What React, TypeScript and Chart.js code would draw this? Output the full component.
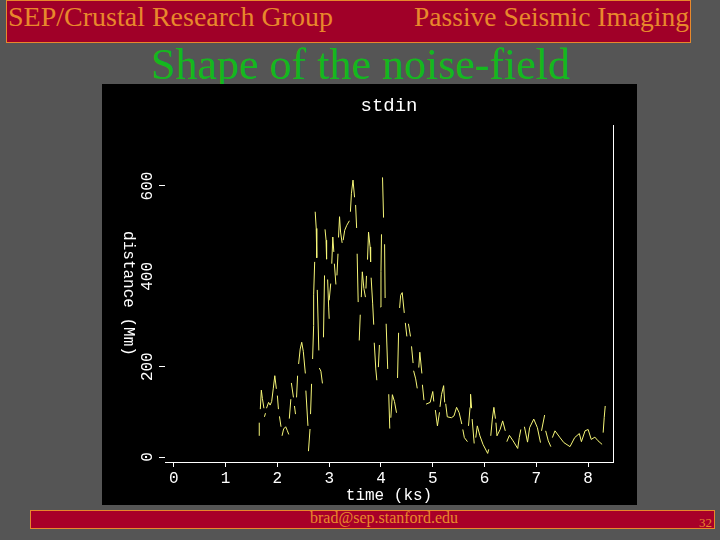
import { useEffect, useRef } from "react";
import type { CSSProperties } from "react";
import { Chart, registerables } from "chart.js";

Chart.register(...registerables);

const plotTitle = "stdin";
const xLabel = "time (ks)";
const yLabel = "distance (Mm)";
const yTicksWithoutMark = [400];

// null = break in the trace, the scan of the plot lost those bits
const times = [
  1.65, 1.65, null, 1.67, 1.69, 1.71, 1.74, null, 1.75, 1.77, null, 1.79, 1.83, 1.86, 1.89, 1.92, 1.95, 1.98, null,
  2.0, 2.02, null, 2.04, 2.07, null, 2.09, 2.12, 2.16, 2.19, 2.22, null, 2.23, 2.26, null, 2.27, 2.31, null, 2.33, 2.35, null,
  2.37, 2.39, null, 2.41, 2.44, 2.47, 2.5, 2.54, null, 2.55, 2.59, null, 2.6, 2.63, null, 2.64, 2.66, null,
  2.68, 2.7, 2.7, 2.72, null, 2.73, 2.75, 2.76, null, 2.77, 2.8, null, 2.81, 2.84, 2.87, null, 2.89, 2.91, null,
  2.92, 2.94, 2.95, null, 2.97, 2.99, 3.0, null, 3.0, 3.03, null, 3.05, 3.07, 3.09, null, 3.1, 3.13, null, 3.15, 3.17, null,
  3.18, 3.2, 3.22, 3.25, null, 3.27, 3.3, 3.34, 3.39, null, 3.41, 3.43, 3.46, 3.49, null, 3.51, 3.53, null, 3.54, 3.56, null,
  3.58, 3.6, null, 3.62, 3.64, 3.67, 3.7, null, 3.71, 3.72, null, 3.74, 3.76, 3.79, 3.8, null, 3.81, 3.84, 3.86, null,
  3.87, 3.9, 3.92, null, 3.95, 3.97, null, 3.99, 4.0, 4.01, null, 4.03, 4.05, null, 4.07, 4.08, null, 4.1, 4.13, null,
  4.15, 4.17, null, 4.19, 4.22, 4.26, 4.3, null, 4.32, 4.34, null, 4.36, 4.38, 4.41, 4.45, null, 4.47, 4.5, null, 4.53, 4.57, null,
  4.59, 4.62, null, 4.63, 4.67, 4.7, null, 4.73, 4.75, 4.79, null, 4.8, 4.83, null, 4.87, 4.95, 5.0, 5.02, null, 5.05, 5.09, 5.13, null,
  5.14, 5.17, 5.21, 5.23, null, 5.25, 5.28, 5.36, 5.41, 5.46, 5.51, 5.56, null, 5.58, 5.61, 5.67, null, 5.69, 5.72, 5.73, 5.75, null,
  5.76, 5.8, null, 5.83, 5.86, 5.91, 5.97, 6.06, 6.08, null, 6.12, 6.15, 6.18, 6.21, null, 6.22, 6.24, 6.3, 6.35, 6.4, null,
  6.43, 6.48, 6.55, 6.64, 6.67, 6.7, null, 6.77, 6.83, 6.87, 6.95, 7.02, 7.08, null, 7.1, 7.16, null, 7.18, 7.23, 7.28, null,
  7.31, 7.36, 7.45, 7.53, 7.65, 7.74, 7.83, 7.87, 7.94, 8.0, 8.06, 8.13, 8.19, 8.27, null, 8.29, 8.31, 8.33,
];

const distances = [
  47, 76, null, 106, 148, 130, 108, null, 89, 97, null, 108, 121, 115, 123, 151, 180, 151, null,
  136, 106, null, 90, 67, null, 47, 62, 67, 59, 50, null, 85, 128, null, 164, 132, null, 113, 95, null,
  132, 180, null, 206, 239, 254, 234, 185, null, 147, 69, null, 13, 62, null, 95, 162, null,
  217, 291, 359, 432, null, 543, 506, 441, null, 370, 236, null, 197, 190, 163, null, 265, 402, null,
  504, 480, 438, null, 393, 332, 306, null, 347, 384, null, 428, 487, 454, null, 428, 382, null, 402, 450, null,
  486, 532, 498, 474, null, 480, 502, 513, 523, null, 543, 584, 613, 575, null, 558, 507, null, 450, 343, null,
  258, 315, null, 354, 410, 373, 354, null, 373, 401, null, 437, 498, 465, 432, null, 397, 339, 293, null,
  253, 195, 170, null, 199, 248, null, 332, 411, 493, null, 619, 530, null, 471, 352, null, 295, 195, null,
  139, 63, null, 87, 138, 123, 98, null, 175, 275, null, 330, 358, 364, 319, null, 297, 267, null, 295, 267, null,
  245, 208, null, 191, 173, 152, null, 198, 232, 185, null, 160, 126, null, 117, 121, 145, 123, null, 104, 69, 99, null,
  111, 139, 158, 121, null, 118, 89, 87, 91, 110, 98, 73, null, 61, 43, 34, null, 69, 110, 139, 108, null,
  84, 30, null, 43, 69, 47, 28, 8, 17, null, 47, 84, 110, 85, null, 76, 47, 61, 80, 58, null,
  34, 48, 36, 19, 43, 61, null, 67, 33, 65, 84, 65, 32, null, 58, 93, null, 58, 36, 23, null,
  43, 58, 44, 32, 23, 43, 52, 34, 58, 61, 39, 44, 36, 28, null, 54, 87, 113,
];

const white = "#ffffff";
const plotFont = "'Liberation Mono', monospace";

// Chart.js only writes a left axis title reading upward, this one reads downward
const downwardYLabel = {
  id: "downwardYLabel",
  afterDraw(chart: Chart) {
    const { ctx, chartArea } = chart;
    ctx.save();
    ctx.translate(26, (chartArea.top + chartArea.bottom) / 2);
    ctx.rotate(Math.PI / 2);
    ctx.font = `16px ${plotFont}`;
    ctx.fillStyle = white;
    ctx.textAlign = "center";
    ctx.textBaseline = "middle";
    ctx.fillText(yLabel, 0, 0);
    ctx.restore();
  },
};

const NoiseChart = () => {
  const chartRef = useRef<HTMLCanvasElement | null>(null);

  useEffect(() => {
    if (!chartRef.current) return;
    const chart = new Chart(chartRef.current, {
      type: "line",
      data: {
        datasets: [
          {
            data: times.map((t, i) => ({ x: t, y: distances[i] })) as any,
            borderColor: "#f6f678",
            borderWidth: 1,
            pointRadius: 0,
            tension: 0,
            spanGaps: false,
          },
        ],
      },
      plugins: [downwardYLabel],
      options: {
        responsive: false,
        animation: false,
        layout: { padding: { right: 24 } },
        plugins: {
          legend: { display: false },
          tooltip: { enabled: false },
          title: {
            display: true,
            fullSize: false,
            text: plotTitle,
            color: white,
            font: { family: plotFont, size: 19, weight: "normal" },
            padding: { top: 10.5, bottom: 7.7 },
          },
        },
        scales: {
          x: {
            type: "linear",
            min: -0.17,
            max: 8.48,
            afterFit: (scale) => {
              scale.height = 43;
            },
            border: { color: white },
            grid: { drawOnChartArea: false, tickLength: 5, tickColor: white },
            ticks: {
              stepSize: 1,
              includeBounds: false,
              autoSkip: false,
              maxRotation: 0,
              color: white,
              padding: 2,
              font: { family: plotFont, size: 16 },
            },
            title: {
              display: true,
              text: xLabel,
              color: white,
              padding: 0,
              font: { family: plotFont, size: 16 },
            },
          },
          y: {
            type: "linear",
            min: -11,
            max: 735,
            afterFit: (scale) => {
              scale.width = 63;
            },
            border: { display: false },
            grid: {
              drawOnChartArea: false,
              tickLength: 6,
              tickColor: (ctx) =>
                yTicksWithoutMark.includes(ctx.tick?.value) ? "transparent" : white,
            },
            ticks: {
              stepSize: 200,
              includeBounds: false,
              autoSkip: false,
              minRotation: 90,
              maxRotation: 90,
              crossAlign: "center",
              color: white,
              padding: -3,
              font: { family: plotFont, size: 16 },
            },
          },
          // only there for the line on the right side of the frame
          frame: {
            type: "linear",
            position: "right",
            afterFit: (scale) => {
              scale.width = 0;
            },
            border: { color: white },
            grid: { drawOnChartArea: false, drawTicks: false },
            ticks: { display: false },
          },
        },
      },
    });

    return () => {
      chart.destroy();
    };
  }, []);

  return <canvas ref={chartRef} width={535} height={421} style={{ display: "block" }} />;
};

const serif = "'Liberation Serif', serif";
const orange = "#e8882c";

const textAt = (left: number, top: number, size: number, color: string): CSSProperties => ({
  position: "absolute",
  left,
  top,
  fontFamily: serif,
  fontSize: size,
  lineHeight: 1,
  color,
  whiteSpace: "nowrap",
});

export default function App() {
  return (
    <div style={{ position: "fixed", left: 0, top: 0, width: 720, height: 540, background: "#555555", overflow: "hidden" }}>
      <div
        style={{
          position: "absolute",
          left: 6,
          top: 0,
          width: 683,
          height: 41,
          background: "#a00028",
          border: `1px solid ${orange}`,
        }}
      />
      <div style={textAt(8, 3, 28, orange)}>SEP/Crustal Research Group</div>
      <div style={textAt(414, 3, 27.5, orange)}>Passive Seismic Imaging</div>
      <div style={textAt(151, 43, 44, "#14b81e")}>Shape of the noise-field</div>
      <div style={{ position: "absolute", left: 102, top: 84, width: 535, height: 421, background: "#000000" }}>
        <NoiseChart />
      </div>
      <div
        style={{
          position: "absolute",
          left: 30,
          top: 510,
          width: 683,
          height: 17,
          background: "#a80028",
          border: `1px solid ${orange}`,
        }}
      />
      <div style={textAt(310, 510, 16, orange)}>brad@sep.stanford.edu</div>
      <div style={textAt(699, 516, 13, orange)}>32</div>
    </div>
  );
}
